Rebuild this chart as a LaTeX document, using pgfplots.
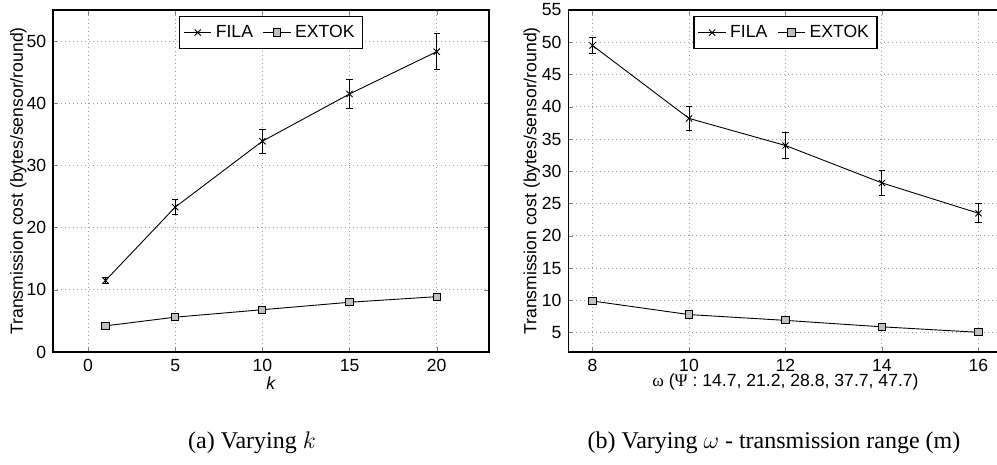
\documentclass[border=0pt]{standalone}
\usepackage{pgfplots}
\pgfplotsset{compat=1.18}
\usepackage{fontspec}
\setmainfont{Liberation Sans}
\newfontfamily\serif{Liberation Serif}
\begin{document}
\begin{tikzpicture}
\path[use as bounding box] (0,0) rectangle (498.5pt,232.5pt);
\pgfplotsset{
  every axis/.append style={
    scale only axis,
    anchor=south west,
    font=\fontsize{8.8}{10}\selectfont,
    /pgf/number format/assume math mode=true,
    tick align=inside,
    major tick length=2.5pt,
    axis line style={line width=0.75pt},
    grid=major,
    major grid style={dash pattern=on 0.5pt off 1.5pt, gray!75, line width=0.5pt},
    legend style={at={(0.5,0.983)}, anchor=north, legend columns=2,
      draw=black, line width=0.7pt, inner xsep=2pt, inner ysep=2.2pt, row sep=0pt,
      /tikz/every even column/.append style={column sep=3pt},
      font=\fontsize{8.8}{10}\selectfont},
    legend cell align=left,
    ylabel={Transmission cost (bytes/sensor/round)},
  },
  legimg/.style={legend image code/.code={
    \draw[mark repeat=2,mark phase=2] plot coordinates {(0cm,0cm)(0.24cm,0cm)(0.48cm,0cm)};}},
  fila/.style={black, line width=0.45pt, mark=x, mark size=2.2pt, legimg,
    error bars/y dir=both, error bars/y explicit,
    error bars/error bar style={line width=0.5pt},
    error bars/error mark options={rotate=90, mark size=1.6pt, line width=0.5pt}},
  extok/.style={black, line width=0.45pt, mark=square*, mark size=1.8pt, legimg,
    mark options={fill=gray!50, line width=0.5pt},
    error bars/y dir=both, error bars/y explicit,
    error bars/error bar style={line width=0.4pt},
    error bars/error mark options={rotate=90, mark size=1.2pt, line width=0.4pt}},
}
% (a)
\begin{axis}[
  at={(26.6pt,56.5pt)}, width=217.9pt, height=171pt,
  xmin=-2, xmax=23, ymin=0, ymax=55,
  xtick={0,5,10,15,20}, ytick={0,10,20,30,40,50},
  xlabel={\textit{k}},
  xlabel style={at={(axis description cs:0.5,0)}, anchor=center, yshift=-15.5pt},
  ylabel style={at={(axis description cs:-0.0803,0.5)}, anchor=center},
]
\addplot+[fila] coordinates {
  (1,11.5) +- (0,0.45)
  (5,23.3) +- (0,1.25)
  (10,33.9) +- (0,1.95)
  (15,41.5) +- (0,2.35)
  (20,48.3) +- (0,2.85)
};
\addlegendentry{FILA}
\addplot+[extok] coordinates {
  (1,4.2) +- (0,0.3)
  (5,5.6) +- (0,0.3)
  (10,6.8) +- (0,0.3)
  (15,8.0) +- (0,0.3)
  (20,8.9) +- (0,0.3)
};
\addlegendentry{EXTOK}
\end{axis}
% (b)
\begin{axis}[
  at={(284.2pt,56.5pt)}, width=217.1pt, height=171pt,
  xmin=7.5, xmax=16.5, ymin=2, ymax=55,
  xtick={8,10,12,14,16}, ytick={5,10,...,55},
  xlabel={{\serif ω} ({\serif Ψ} : 14.7, 21.2, 28.8, 37.7, 47.7)},
  xlabel style={at={(axis description cs:0.5,0)}, anchor=center, yshift=-15pt},
  ylabel style={at={(axis description cs:-0.0843,0.5)}, anchor=center},
]
\addplot+[fila] coordinates {
  (8,49.5) +- (0,1.3)
  (10,38.2) +- (0,1.8)
  (12,34.0) +- (0,1.95)
  (14,28.2) +- (0,1.9)
  (16,23.5) +- (0,1.5)
};
\addlegendentry{FILA}
\addplot+[extok] coordinates {
  (8,9.9) +- (0,0.3)
  (10,7.8) +- (0,0.3)
  (12,6.9) +- (0,0.3)
  (14,5.9) +- (0,0.3)
  (16,5.05) +- (0,0.3)
};
\addlegendentry{EXTOK}
\end{axis}
\node[anchor=base, font=\serif\fontsize{12}{14}\selectfont] at (126pt,8pt) {(a) Varying $k$};
\node[anchor=base, font=\serif\fontsize{12}{14}\selectfont] at (387pt,8pt) {(b) Varying $\omega$ - transmission range (m)};
\end{tikzpicture}
\end{document}
